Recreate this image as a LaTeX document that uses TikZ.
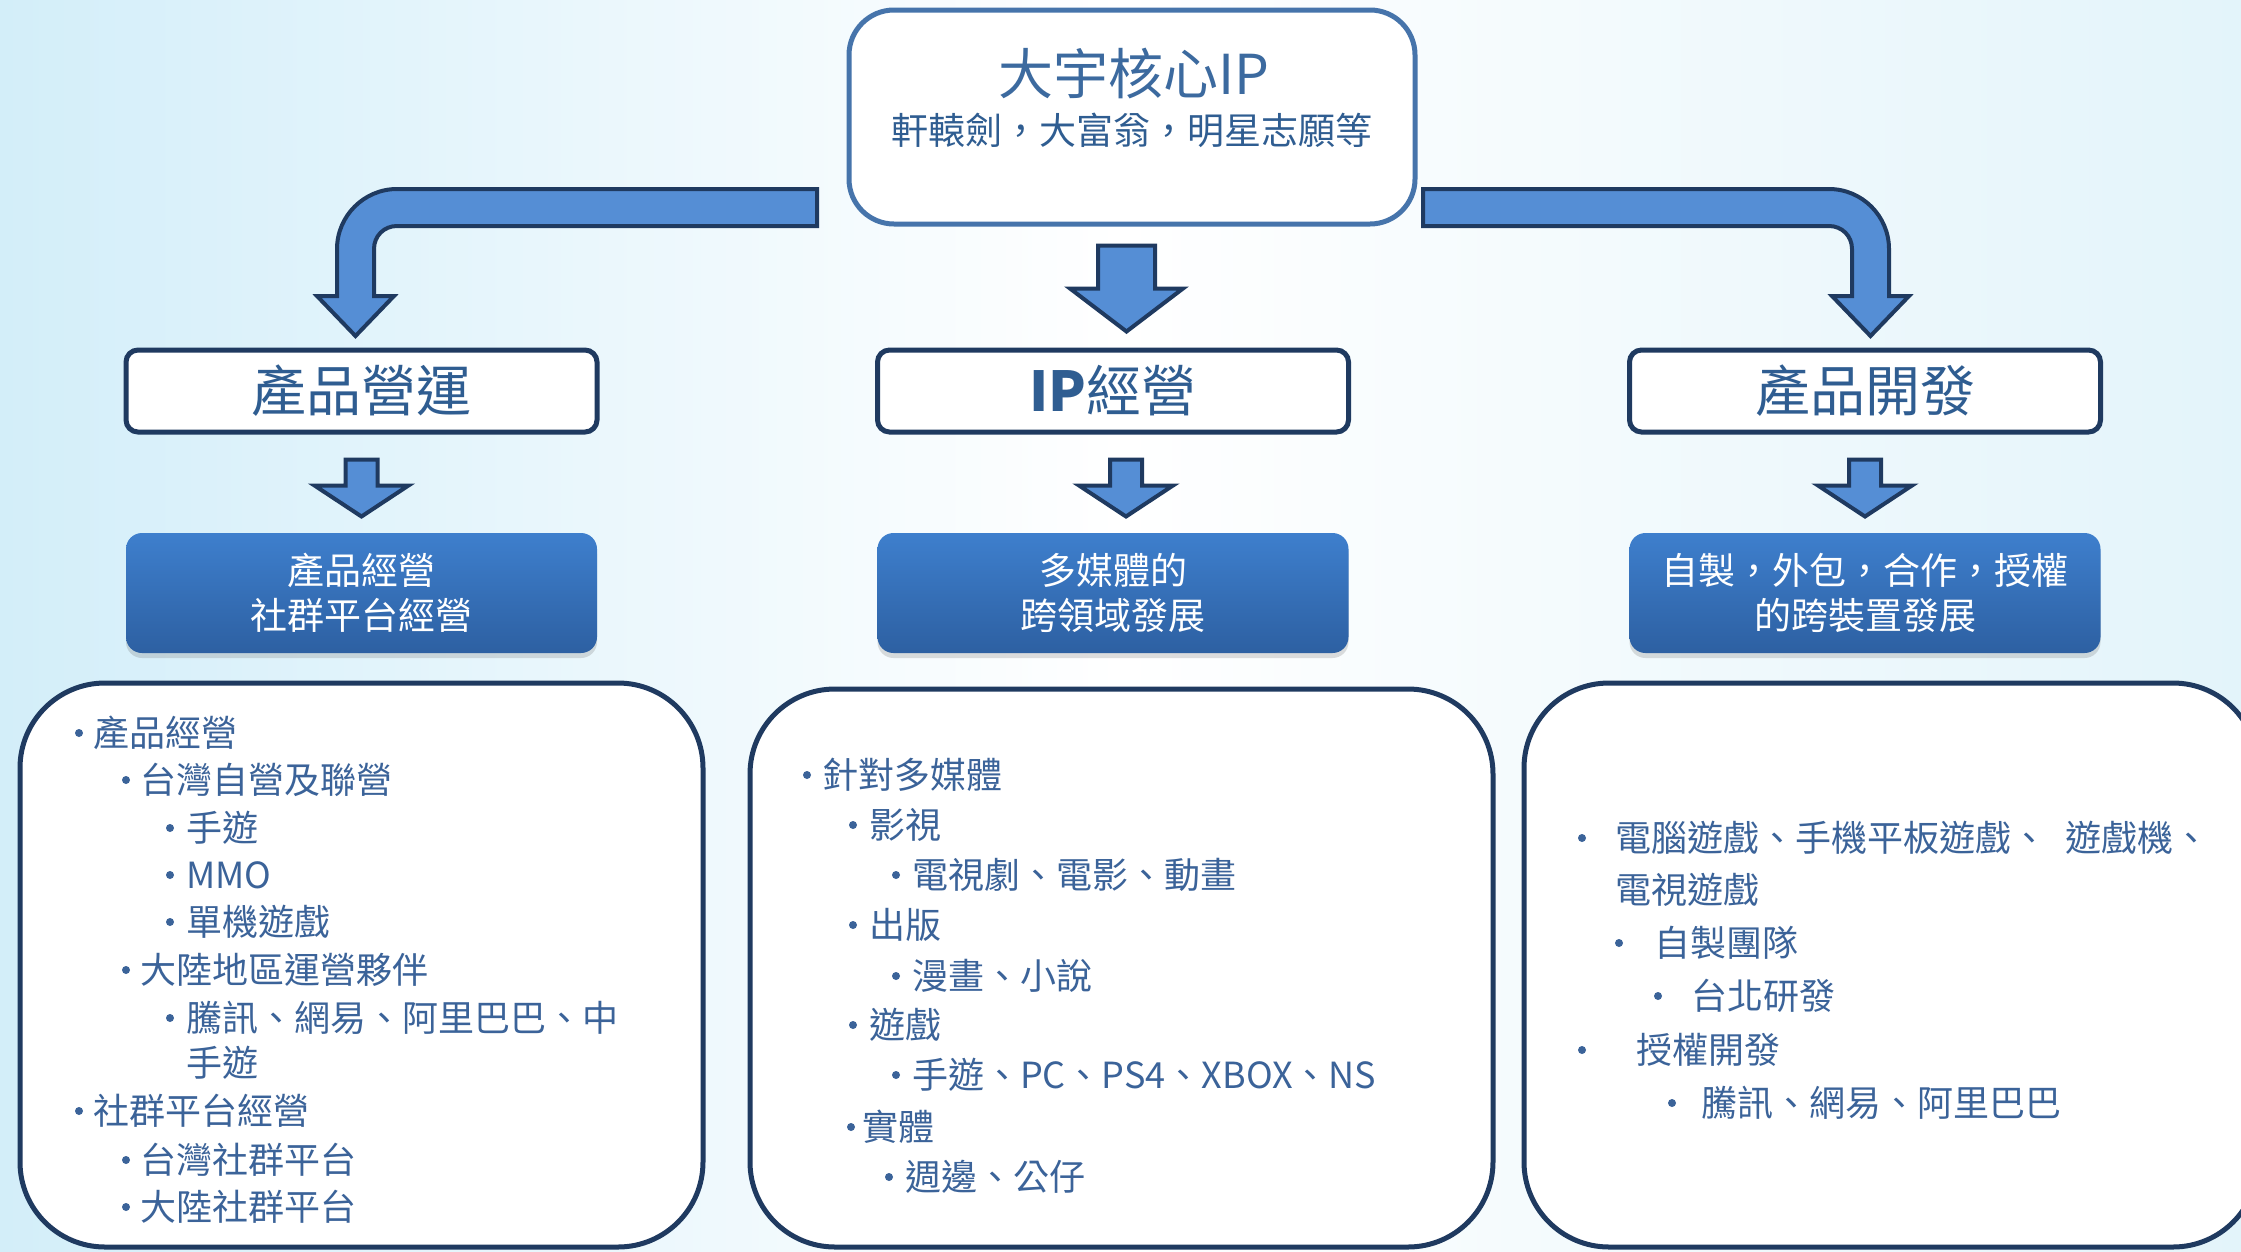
\documentclass[tikz,border=0pt]{standalone}
\usepackage{fontspec}
\newfontfamily\cjk{Noto Sans CJK TC}
\usetikzlibrary{shadows,calc}
\definecolor{arrowfill}{HTML}{558ED5}
\definecolor{navy}{HTML}{1F3A60}
\definecolor{txtblue}{HTML}{3B6399}
\definecolor{hdrblue}{HTML}{2F5D91}
\definecolor{titleblue}{HTML}{3C6A9F}
\definecolor{topline}{HTML}{4674AB}
\definecolor{bluetop}{HTML}{3E7FCD}
\definecolor{bluebot}{HTML}{2D60A2}
\definecolor{bgl}{HTML}{D3EEF9}
\definecolor{bgr}{HTML}{E3F4FA}
\tikzset{
 blockarrow/.style={fill=arrowfill, draw=navy, line width=4pt, line join=miter},
 hdrbox/.style={draw=navy, line width=5pt, fill=white, rounded corners=12pt, minimum width=471pt, minimum height=82pt, inner sep=0pt, text=hdrblue, font=\cjk\fontsize{55}{60}\selectfont},
 bluebox/.style={rounded corners=16pt, top color=bluetop, bottom color=bluebot, minimum width=471pt, minimum height=120pt, inner sep=0pt, text=white, align=center, font=\cjk\fontsize{37}{45}\selectfont, drop shadow={shadow xshift=0pt, shadow yshift=-5pt, opacity=0.22, fill=black!60}},
 topbox/.style={draw=topline, line width=5pt, fill=white, rounded corners=45pt, minimum width=566pt, minimum height=214pt, inner sep=0pt},
 listbox/.style={draw=navy, line width=5pt, fill=white, rounded corners=85pt},
 itemtext/.style={anchor=west, inner sep=0pt, text=txtblue, font=\cjk\fontsize{36}{40}\selectfont},
 dot/.style={circle, fill=txtblue, inner sep=0pt, minimum size=8pt},
}
\newcommand\Itm[5]{\node[dot] (#1b) at (#2,#4) {}; \node[itemtext] (#1) at (#3,#4) {#5};}
\newcommand\SmallArrow[2]{%
 \begin{scope}[shift={(#1.south)}, xshift=#2pt]
 \draw[blockarrow] (-16,25) -- (16,25) -- (16,51) -- (47,51) -- (0,82) -- (-47,51) -- (-16,51) -- cycle;
 \end{scope}}
\begin{document}
\begin{tikzpicture}[x=1pt,y=-1pt]
\useasboundingbox (0,0) rectangle (2241,1251);
\clip (0,0) rectangle (2241,1251);
\shade[left color=bgl, right color=bgr, middle color=white] (0,0) rectangle (2241,1251);

% top box
\node[topbox] (top) at (1132,117) {};
\node[font=\cjk\fontsize{55}{60}\selectfont, text=titleblue, inner sep=0pt] (title) at (1134,74) {大宇核心IP};
\node[font=\cjk\fontsize{37}{40}\selectfont, text=hdrblue, inner sep=0pt] (sub) at (1132,130) {軒轅劍，大富翁，明星志願等};

% curved arrows
\draw[blockarrow] (817,189) -- (397,189) .. controls (364,189) and (337,216) .. (337,249) -- (337,296) -- (317,296) -- (355.5,336) -- (394,296) -- (374,296) -- (374,249) .. controls (374,236) and (384,226) .. (397,226) -- (817,226) -- cycle;
\draw[blockarrow] (1423,189) -- (1829,189) .. controls (1862,189) and (1889,216) .. (1889,249) -- (1889,296) -- (1909,296) -- (1870.5,336) -- (1832,296) -- (1852,296) -- (1852,249) .. controls (1852,236) and (1842,226) .. (1829,226) -- (1423,226) -- cycle;
% center arrow
\begin{scope}[shift={(top.south)}]
\draw[blockarrow] (-34,19) -- (23,19) -- (23,62) -- (51,62) -- (-5.5,105) -- (-62,62) -- (-34,62) -- cycle;
\end{scope}

% header boxes
\node[hdrbox] (h1) at (361.5,391) {產品營運};
\node[hdrbox] (h2) at (1113,391) {\textbf{IP}經營};
\node[hdrbox] (h3) at (1865,391) {產品開發};

% small arrows
\SmallArrow{h1}{0}
\SmallArrow{h2}{13}
\SmallArrow{h3}{0}

% blue boxes
\node[bluebox] (b1) at (361.5,593) {產品經營\\社群平台經營};
\node[bluebox] (b2) at (1113,593) {多媒體的\\跨領域發展};
\node[bluebox] (b3) at (1865,593) {自製，外包，合作，授權\\的跨裝置發展};

% list boxes
\draw[listbox] (20,683) rectangle (703,1247);
\draw[listbox] (750,689) rectangle (1493,1247);
\draw[listbox] (1524,683) rectangle (2258,1247);

% left list
\Itm{l1}{79}{93}{733}{產品經營}
\Itm{l2}{126}{140}{780}{台灣自營及聯營}
\Itm{l3}{170}{186}{828}{手遊}
\Itm{l4}{170}{186}{875}{MMO}
\Itm{l5}{170}{186}{922}{單機遊戲}
\Itm{l6}{126}{140}{970}{大陸地區運營夥伴}
\Itm{l7}{170}{186}{1018}{騰訊、網易、阿里巴巴、中}
\node[itemtext] (l7b2) at (186,1063) {手遊};
\Itm{l8}{79}{93}{1111}{社群平台經營}
\Itm{l9}{126}{140}{1160}{台灣社群平台}
\Itm{l10}{126}{140}{1207}{大陸社群平台}

% middle list
\Itm{m1}{807}{822}{775}{針對多媒體}
\Itm{m2}{853}{869}{825}{影視}
\Itm{m3}{896}{912}{875}{電視劇、電影、動畫}
\Itm{m4}{853}{869}{925}{出版}
\Itm{m5}{896}{912}{976}{漫畫、小說}
\Itm{m6}{853}{869}{1025}{遊戲}
\Itm{m7}{896}{912}{1075}{手遊、PC、PS4、XBOX、NS}
\Itm{m8}{851}{862}{1127}{實體}
\Itm{m9}{889}{905}{1177}{週邊、公仔}

% right list
\Itm{r1}{1582}{1615}{838}{電腦遊戲、手機平板遊戲、\hspace{18pt}遊戲機、}
\node[itemtext] (r1b2) at (1615,890) {電視遊戲};
\Itm{r2}{1619}{1654}{943}{自製團隊}
\Itm{r3}{1658}{1691}{996}{台北研發}
\Itm{r4}{1582}{1636}{1050}{授權開發}
\Itm{r5}{1672}{1701}{1103}{騰訊、網易、阿里巴巴}
\end{tikzpicture}
\end{document}
